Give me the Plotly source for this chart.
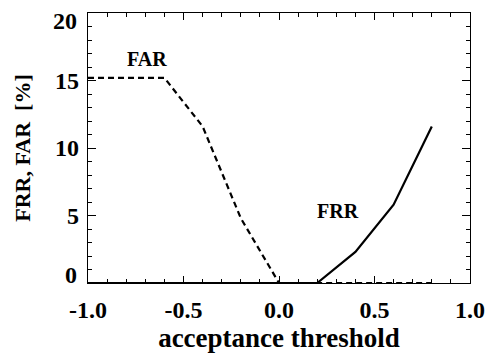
import plotly.graph_objects as go

# Data
far_x = [-1.0, -0.6, -0.4, -0.2, 0.0, 0.2, 0.4, 0.6, 0.8]
far_y = [15.2, 15.2, 11.6, 4.8, 0.0, 0.0, 0.0, 0.0, 0.0]
frr_x = [-1.0, -0.8, -0.6, -0.4, -0.2, 0.0, 0.2, 0.4, 0.6, 0.8]
frr_y = [0.0, 0.0, 0.0, 0.0, 0.0, 0.0, 0.0, 2.3, 5.8, 11.6]

x_ticks = [-1.0, -0.5, 0.0, 0.5, 1.0]
x_ticklabels = ["-1.0", "-0.5", "0.0", "0.5", "1.0"]
y_ticks = [0, 5, 10, 15, 20]
y_ticklabels = ["0", "5", "10", "15", "20"]

FONT = "Liberation Serif"
TICKFONT = dict(family=FONT, size=24, color="black", weight="bold")

fig = go.Figure()
fig.add_trace(go.Scatter(x=far_x, y=far_y, mode="lines",
                         line=dict(color="black", width=2.2, dash="6px,4px"),
                         showlegend=False))
fig.add_trace(go.Scatter(x=frr_x, y=frr_y, mode="lines",
                         line=dict(color="black", width=2.2),
                         showlegend=False))

fig.add_annotation(x=-0.69, y=16.6, text="<b>FAR</b>", showarrow=False,
                   font=dict(family=FONT, size=20, color="black"))
fig.add_annotation(x=0.31, y=5.3, text="<b>FRR</b>", showarrow=False,
                   font=dict(family=FONT, size=20, color="black"))

# y tick labels: inner ones via the axis; the end labels are nudged inward
# (as in the reference) so they do not collide with the x labels / frame.
y_ticktext = [t if v not in (y_ticks[0], y_ticks[-1]) else "" for v, t in zip(y_ticks, y_ticklabels)]
for v, t, shift in [(y_ticks[0], y_ticklabels[0], 8), (y_ticks[-1], y_ticklabels[-1], -8)]:
    fig.add_annotation(x=0, xref="paper", y=v, yref="y", text=t, showarrow=False,
                       xanchor="right", xshift=-9, yshift=shift, font=TICKFONT)

axis_common = dict(
    showgrid=False, zeroline=False, showline=True, linecolor="black",
    linewidth=1.2, mirror="ticks", ticks="inside", tickcolor="black",
    tickwidth=1.2, automargin=False, tickfont=TICKFONT,
)

fig.update_xaxes(range=[-1, 1], tickvals=x_ticks, ticktext=x_ticklabels,
                 ticklen=7, ticklabelstandoff=5,
                 minor=dict(ticks="inside", dtick=0.1, ticklen=4,
                            tickcolor="black", tickwidth=1.2),
                 title=dict(text="<b>acceptance threshold</b>",
                            font=dict(family=FONT, size=27, color="black"),
                            standoff=4),
                 **axis_common)
fig.update_yaxes(range=[0, 20], tickvals=y_ticks, ticktext=y_ticktext,
                 ticklen=8, ticklabelstandoff=3,
                 minor=dict(ticks="inside", dtick=1, ticklen=4,
                            tickcolor="black", tickwidth=1.2),
                 title=dict(text="<b>FRR, FAR  [%]</b>",
                            font=dict(family=FONT, size=22, color="black"),
                            standoff=18),
                 **axis_common)

fig.update_layout(
    width=491, height=356,
    margin=dict(l=88, r=21, t=13, b=73),
    plot_bgcolor="white", paper_bgcolor="white",
    font=dict(family=FONT, color="black"),
)

fig.write_html("out.html", config={"displayModeBar": False},
               post_script="document.body.style.margin='0';")
